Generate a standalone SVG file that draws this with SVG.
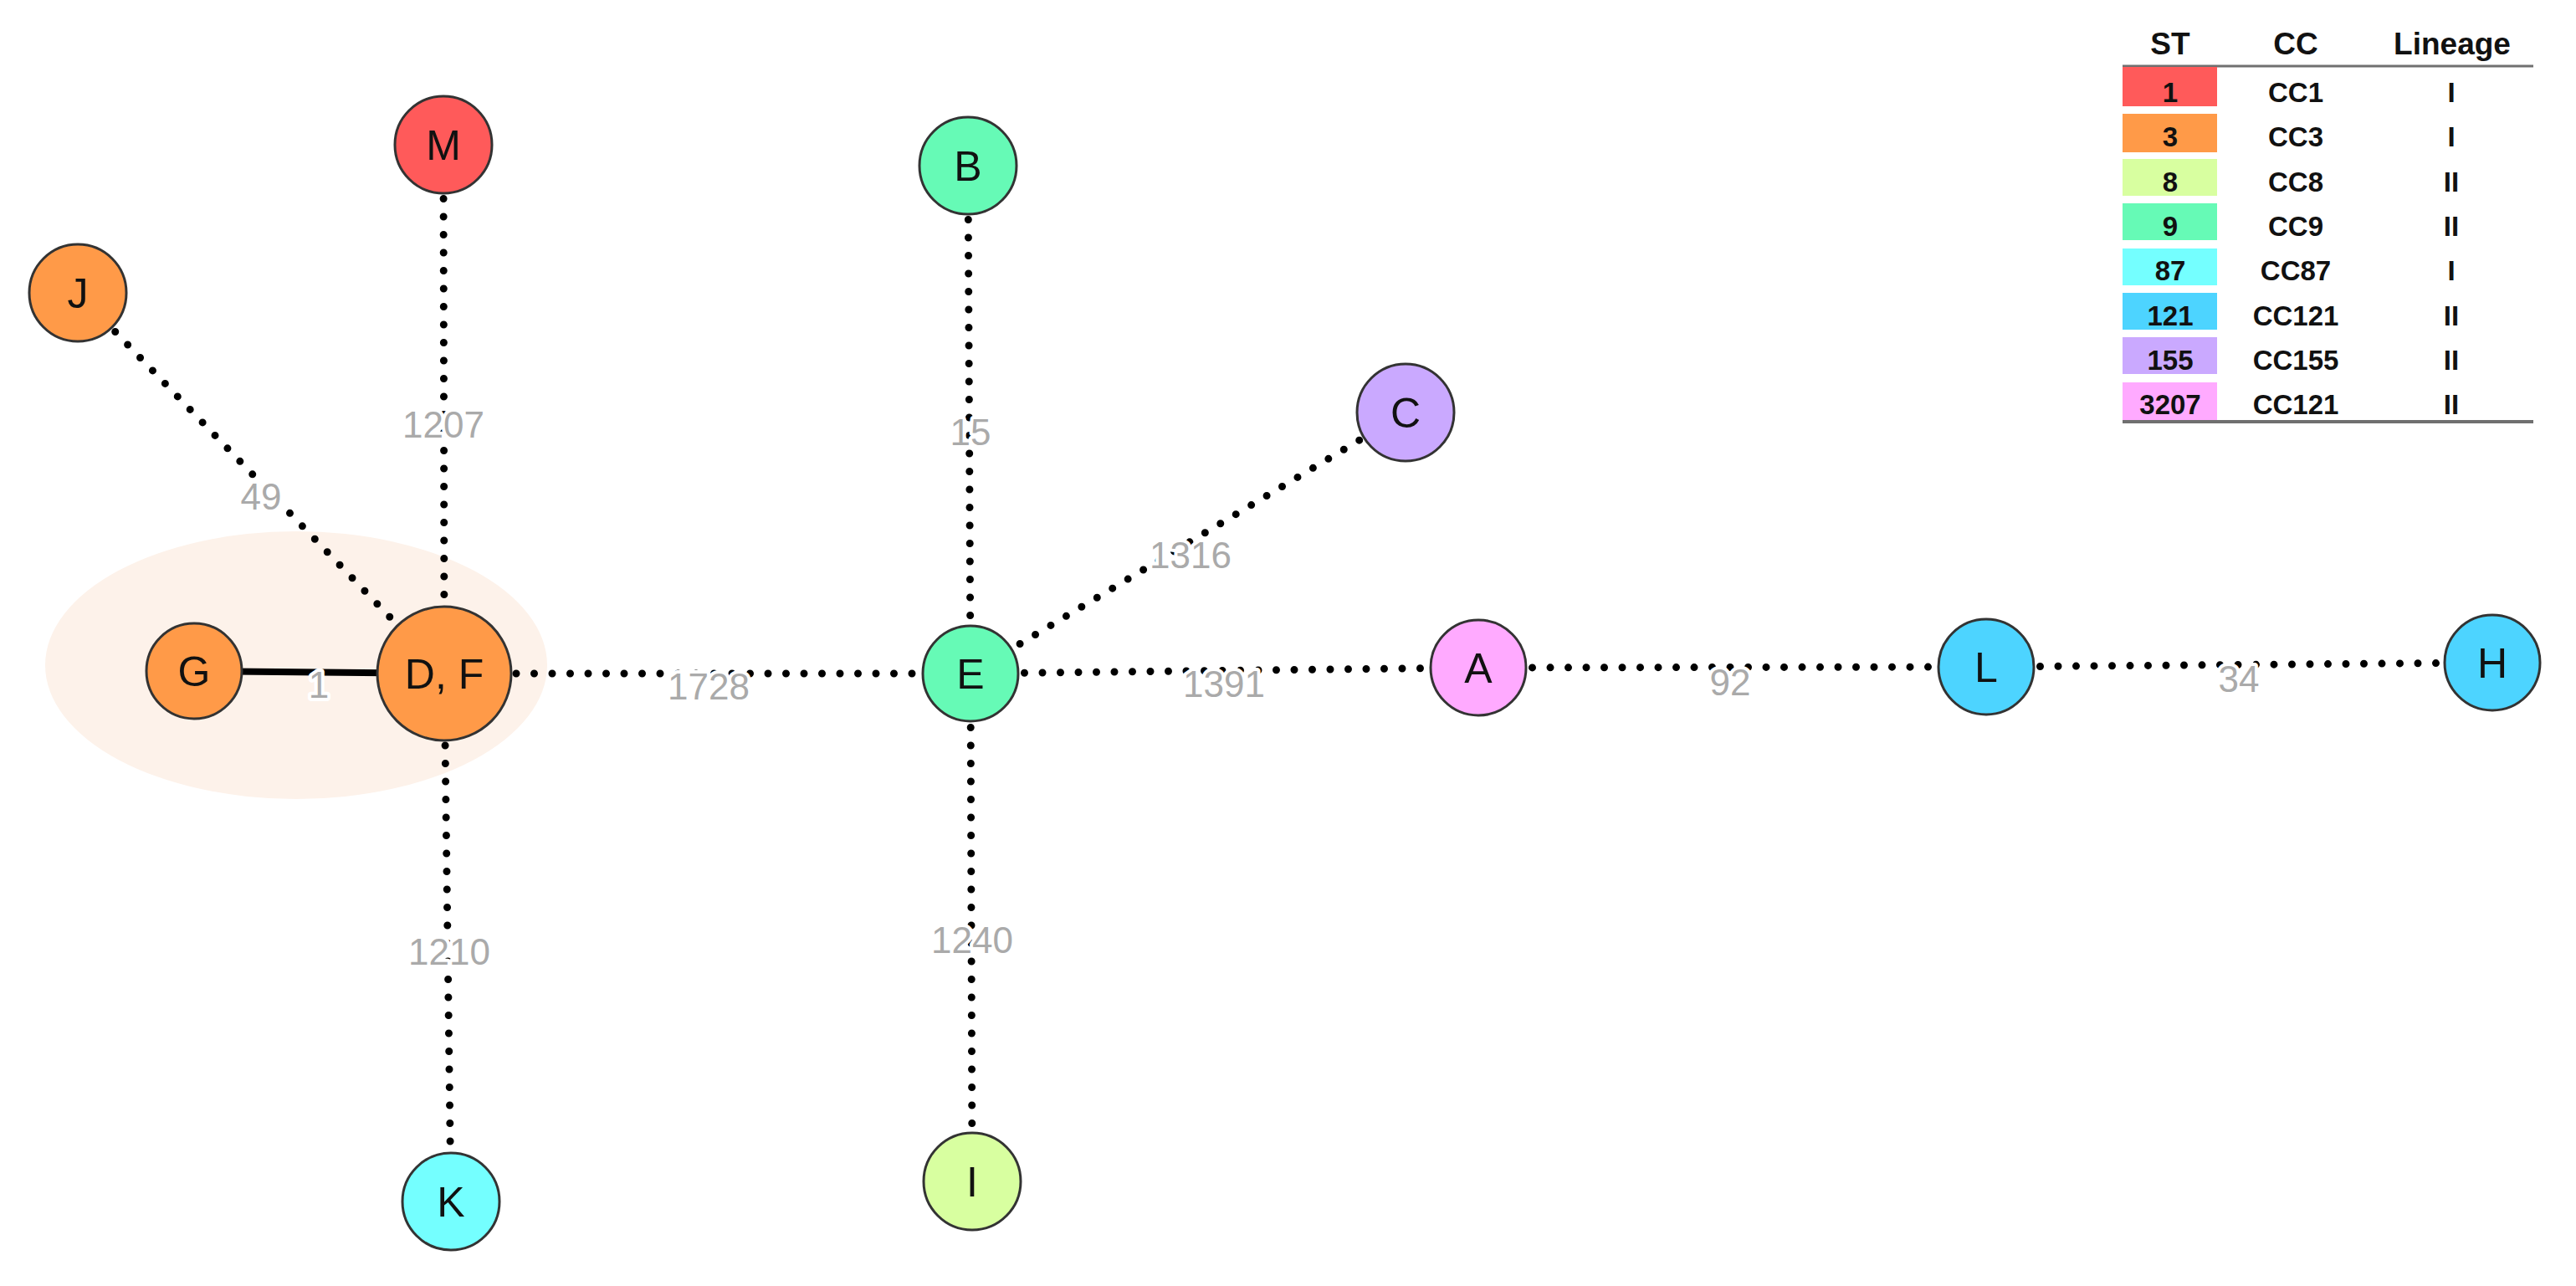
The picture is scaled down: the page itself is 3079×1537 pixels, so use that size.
<svg xmlns="http://www.w3.org/2000/svg" width="3079" height="1537" viewBox="0 0 3079 1537">
<style>
.bg{fill:#ffffff}
.edge{stroke:#000;stroke-width:9;stroke-linecap:round;stroke-dasharray:0 21.5;fill:none}
.solid{stroke:#000;stroke-width:8;fill:none}
.elab{font-family:"Liberation Sans",Arial,sans-serif;font-size:44px;fill:#aaaaaa;text-anchor:middle;stroke:#fff;stroke-width:8;paint-order:stroke;stroke-linejoin:round}
.node{stroke:#333;stroke-width:3}
.nlab{font-family:"Liberation Sans",Arial,sans-serif;font-size:50px;fill:#111;text-anchor:middle}
.lh{font-family:"Liberation Sans",Arial,sans-serif;font-size:37px;font-weight:bold;fill:#111;text-anchor:middle}
.lt{font-family:"Liberation Sans",Arial,sans-serif;font-size:33px;font-weight:bold;fill:#111;text-anchor:middle}
.rule{stroke:#707070;fill:none}
.red{fill:#ff5a5a}.orange{fill:#ff9a48}.lime{fill:#d8ffa0}.green{fill:#66fab6}.cyan{fill:#74ffff}.blue{fill:#4dd4ff}.purple{fill:#caa9ff}.pink{fill:#ffaaff}
</style>
<rect class="bg" x="0" y="0" width="3079" height="1537"/>
<ellipse id="cluster" cx="354" cy="795" rx="300" ry="160" fill="#fdf2ea"/>
<g id="connectors">
<line class="edge" x1="93" y1="350" x2="531" y2="805"/>
<line class="edge" x1="530" y1="173" x2="531" y2="805"/>
<line class="solid" x1="232" y1="802" x2="531" y2="805"/>
<line class="edge" x1="531" y1="805" x2="1160" y2="805"/>
<line class="edge" x1="531" y1="805" x2="539" y2="1436"/>
<line class="edge" x1="1157" y1="198" x2="1160" y2="805"/>
<line class="edge" x1="1680" y1="493" x2="1160" y2="805"/>
<line class="edge" x1="1160" y1="805" x2="1767" y2="798"/>
<line class="edge" x1="1160" y1="805" x2="1162" y2="1412"/>
<line class="edge" x1="1767" y1="798" x2="2374" y2="797"/>
<line class="edge" x1="2374" y1="797" x2="2979" y2="792"/>
<text class="elab" x="312" y="609">49</text>
<text class="elab" x="530" y="523">1207</text>
<text class="elab" x="381" y="834">1</text>
<text class="elab" x="847" y="836">1728</text>
<text class="elab" x="537" y="1153">1210</text>
<text class="elab" x="1160" y="532">15</text>
<text class="elab" x="1423" y="679">1316</text>
<text class="elab" x="1463" y="833">1391</text>
<text class="elab" x="1162" y="1139">1240</text>
<text class="elab" x="2068" y="831">92</text>
<text class="elab" x="2676" y="827">34</text>
</g>
<g id="node-M"><circle class="node red" cx="530" cy="173" r="58"/><text class="nlab" x="530" y="191">M</text></g>
<g id="node-J"><circle class="node orange" cx="93" cy="350" r="58"/><text class="nlab" x="93" y="368">J</text></g>
<g id="node-G"><circle class="node orange" cx="232" cy="802" r="57"/><text class="nlab" x="232" y="820">G</text></g>
<g id="node-DF"><circle class="node orange" cx="531" cy="805" r="80"/><text class="nlab" x="531" y="823">D, F</text></g>
<g id="node-K"><circle class="node cyan" cx="539" cy="1436" r="58"/><text class="nlab" x="539" y="1454">K</text></g>
<g id="node-B"><circle class="node green" cx="1157" cy="198" r="58"/><text class="nlab" x="1157" y="216">B</text></g>
<g id="node-E"><circle class="node green" cx="1160" cy="805" r="57"/><text class="nlab" x="1160" y="823">E</text></g>
<g id="node-I"><circle class="node lime" cx="1162" cy="1412" r="58"/><text class="nlab" x="1162" y="1430">I</text></g>
<g id="node-C"><circle class="node purple" cx="1680" cy="493" r="58"/><text class="nlab" x="1680" y="511">C</text></g>
<g id="node-A"><circle class="node pink" cx="1767" cy="798" r="57"/><text class="nlab" x="1767" y="816">A</text></g>
<g id="node-L"><circle class="node blue" cx="2374" cy="797" r="57"/><text class="nlab" x="2374" y="815">L</text></g>
<g id="node-H"><circle class="node blue" cx="2979" cy="792" r="57"/><text class="nlab" x="2979" y="810">H</text></g>
<g id="legend">
<text class="lh" x="2594" y="65">ST</text>
<text class="lh" x="2744" y="65">CC</text>
<text class="lh" x="2931" y="65">Lineage</text>
<line class="rule" x1="2537" y1="79" x2="3028" y2="79" stroke-width="3"/>
<rect class="red" x="2537" y="80" width="113" height="47"/>
<rect class="orange" x="2537" y="136" width="113" height="46"/>
<rect class="lime" x="2537" y="190" width="113" height="44"/>
<rect class="green" x="2537" y="243" width="113" height="44"/>
<rect class="cyan" x="2537" y="297" width="113" height="44"/>
<rect class="blue" x="2537" y="350" width="113" height="44"/>
<rect class="purple" x="2537" y="403" width="113" height="44"/>
<rect class="pink" x="2537" y="457" width="113" height="46"/>
<line class="rule" x1="2537" y1="504" x2="3028" y2="504" stroke-width="4"/>
<text class="lt" x="2594" y="122">1</text><text class="lt" x="2744" y="122">CC1</text><text class="lt" x="2930" y="122">I</text>
<text class="lt" x="2594" y="175">3</text><text class="lt" x="2744" y="175">CC3</text><text class="lt" x="2930" y="175">I</text>
<text class="lt" x="2594" y="229">8</text><text class="lt" x="2744" y="229">CC8</text><text class="lt" x="2930" y="229">II</text>
<text class="lt" x="2594" y="282">9</text><text class="lt" x="2744" y="282">CC9</text><text class="lt" x="2930" y="282">II</text>
<text class="lt" x="2594" y="335">87</text><text class="lt" x="2744" y="335">CC87</text><text class="lt" x="2930" y="335">I</text>
<text class="lt" x="2594" y="389">121</text><text class="lt" x="2744" y="389">CC121</text><text class="lt" x="2930" y="389">II</text>
<text class="lt" x="2594" y="442">155</text><text class="lt" x="2744" y="442">CC155</text><text class="lt" x="2930" y="442">II</text>
<text class="lt" x="2594" y="495">3207</text><text class="lt" x="2744" y="495">CC121</text><text class="lt" x="2930" y="495">II</text>
</g>
</svg>
